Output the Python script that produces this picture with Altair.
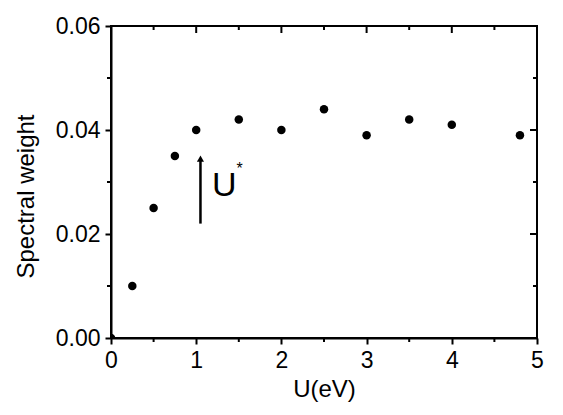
import altair as alt
import pandas as pd

# data
u_values = [0.0, 0.25, 0.5, 0.75, 1.0, 1.5, 2.0, 2.5, 3.0, 3.5, 4.0, 4.8]
weights = [0.0, 0.010, 0.025, 0.035, 0.040, 0.042, 0.040, 0.044, 0.039, 0.042, 0.041, 0.039]

x_major = [0, 1, 2, 3, 4, 5]
x_minor = [0.5, 1.5, 2.5, 3.5, 4.5]
y_major = [0.0, 0.02, 0.04, 0.06]
y_minor = [0.01, 0.03, 0.05]

arrow_x = [1.05]
arrow_y0 = [0.022]
arrow_y1 = [0.0345]
label_main = ["U"]
label_main_x = [1.33]
label_main_y = [0.0293]
label_star = ["*"]
label_star_x = [1.51]
label_star_y = [0.0325]

W, H = 426, 312
FONT = "Liberation Sans"

xs = alt.Scale(domain=[0, 5], nice=False)
ys = alt.Scale(domain=[0, 0.06], nice=False)

x_axis = alt.Axis(
    values=x_major, title="U(eV)", tickSize=6, tickWidth=2, domainWidth=2,
    domainColor="black", tickColor="black", labelFontSize=23, titleFontSize=24,
    labelFont=FONT, titleFont=FONT, labelColor="black", titleColor="black",
    titleFontWeight="normal", labelPadding=5, titlePadding=5, grid=False,
    labelFlush=False)
y_axis = alt.Axis(
    values=y_major, format=".2f", title="Spectral weight", tickSize=6, tickWidth=2,
    domainWidth=2, domainColor="black", tickColor="black", labelFontSize=23,
    titleFontSize=24, labelFont=FONT, titleFont=FONT, labelColor="black",
    titleColor="black", titleFontWeight="normal", labelPadding=5, titlePadding=17,
    titleY=170, grid=False, labelFlush=False)


def X(f):
    return alt.X(f, scale=xs, axis=x_axis, title="U(eV)")


def Y(f):
    return alt.Y(f, scale=ys, axis=y_axis, title="Spectral weight")


pts = pd.DataFrame({"U": u_values, "w": weights})
points = alt.Chart(pts).mark_circle(size=72, color="black", opacity=1, clip=True).encode(
    x=X("U:Q"), y=Y("w:Q"))

xmaj_df = pd.DataFrame({"v": x_major[1:-1]})
xmin_df = pd.DataFrame({"v": x_minor})
ymaj_df = pd.DataFrame({"v": y_major[1:-1]})
ymin_df = pd.DataFrame({"v": y_minor})

top_major = alt.Chart(xmaj_df).mark_rule(color="black", strokeWidth=2).encode(
    x=X("v:Q"), y=alt.value(0), y2=alt.value(7))
top_minor = alt.Chart(xmin_df).mark_rule(color="black", strokeWidth=2).encode(
    x=X("v:Q"), y=alt.value(0), y2=alt.value(4))
bot_minor = alt.Chart(xmin_df).mark_rule(color="black", strokeWidth=2).encode(
    x=X("v:Q"), y=alt.value(H), y2=alt.value(H + 4))
right_major = alt.Chart(ymaj_df).mark_rule(color="black", strokeWidth=2).encode(
    y=Y("v:Q"), x=alt.value(W - 7), x2=alt.value(W))
right_minor = alt.Chart(ymin_df).mark_rule(color="black", strokeWidth=2).encode(
    y=Y("v:Q"), x=alt.value(W - 4), x2=alt.value(W))
left_minor = alt.Chart(ymin_df).mark_rule(color="black", strokeWidth=2).encode(
    y=Y("v:Q"), x=alt.value(-4), x2=alt.value(0))

arr_df = pd.DataFrame({"x": arrow_x, "y0": arrow_y0, "y1": arrow_y1})
arrow_line = alt.Chart(arr_df).mark_rule(color="black", strokeWidth=2.5).encode(
    x=X("x:Q"), y=Y("y0:Q"), y2="y1:Q")
arrow_head = alt.Chart(arr_df).mark_point(shape="triangle-up", filled=True, color="black",
                                          opacity=1, size=50).encode(
    x=X("x:Q"), y=Y("y1:Q"))

lab_df = pd.DataFrame({"t": label_main, "x": label_main_x, "y": label_main_y})
lab = alt.Chart(lab_df).mark_text(fontSize=34, font=FONT, color="black",
                                  align="center", baseline="middle").encode(
    x=X("x:Q"), y=Y("y:Q"), text="t:N")
star_df = pd.DataFrame({"t": label_star, "x": label_star_x, "y": label_star_y})
star = alt.Chart(star_df).mark_text(fontSize=16, font=FONT, color="black",
                                    align="center", baseline="middle").encode(
    x=X("x:Q"), y=Y("y:Q"), text="t:N")

chart = alt.layer(
    points, top_major, top_minor, bot_minor, right_major, right_minor, left_minor,
    arrow_line, arrow_head, lab, star
).properties(
    width=W, height=H,
    autosize=alt.AutoSizeParams(type="none"),
    padding={"left": 103, "top": 18, "right": 18, "bottom": 69},
).configure(background="white").configure_view(stroke="black", strokeWidth=2)

chart.save("out.html", embed_options={"renderer": "svg", "actions": False})
